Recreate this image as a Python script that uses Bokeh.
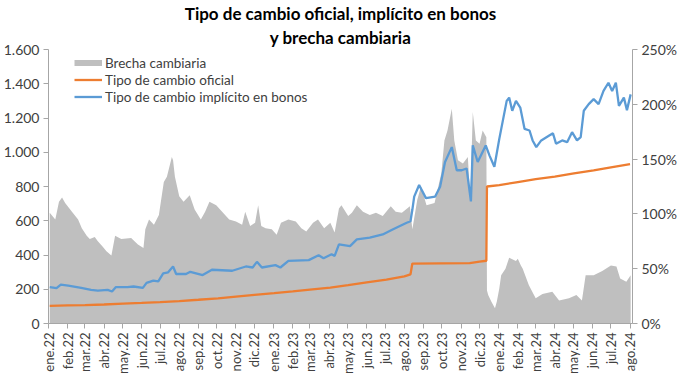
import math
from datetime import datetime
import pandas as pd
from bokeh.plotting import figure
from bokeh.models import (ColumnDataSource, Range1d, LinearAxis, FixedTicker,
                          NumeralTickFormatter, Legend, LegendItem, Title)
from bokeh.embed import file_html
from bokeh.resources import INLINE

# ---------------- data ----------------
oficial_dates = ["2022-01-03", "2022-02-01", "2022-03-01", "2022-04-01", "2022-05-02", "2022-06-01",
                 "2022-07-01", "2022-08-01", "2022-09-01", "2022-10-03", "2022-11-01", "2022-12-01",
                 "2023-01-02", "2023-02-01", "2023-03-01", "2023-04-03", "2023-05-02", "2023-06-01",
                 "2023-07-03", "2023-08-01", "2023-08-11", "2023-08-14", "2023-11-15", "2023-12-01",
                 "2023-12-12", "2023-12-13", "2024-01-02", "2024-02-01", "2024-03-01", "2024-04-01",
                 "2024-05-02", "2024-06-03", "2024-07-01", "2024-08-01"]
oficial_values = [103.0, 105.4, 107.7, 111.0, 115.5, 120.0,
                  125.2, 131.0, 138.7, 147.3, 157.0, 167.0,
                  177.1, 187.0, 197.7, 209.6, 224.0, 240.1,
                  256.7, 275.5, 287.0, 350.0, 353.0, 361.0,
                  366.5, 800.0, 808.5, 826.0, 843.0, 858.0,
                  877.0, 894.0, 912.0, 931.0]

bonos_dates = ["2022-01-03", "2022-01-14", "2022-01-21", "2022-02-02", "2022-02-23", "2022-03-11",
               "2022-03-22", "2022-04-07", "2022-04-14", "2022-04-20", "2022-05-09", "2022-05-19",
               "2022-06-03", "2022-06-09", "2022-06-20", "2022-06-28", "2022-07-06", "2022-07-14",
               "2022-07-22", "2022-07-27", "2022-08-12", "2022-08-19", "2022-09-08", "2022-09-23",
               "2022-10-26", "2022-11-17", "2022-11-28", "2022-12-05", "2022-12-13", "2023-01-04",
               "2023-01-12", "2023-01-25", "2023-02-27", "2023-03-15", "2023-03-23", "2023-04-05",
               "2023-04-10", "2023-04-17", "2023-05-05", "2023-05-16", "2023-06-06", "2023-06-27",
               "2023-07-13", "2023-08-04", "2023-08-11", "2023-08-14", "2023-08-17", "2023-08-25",
               "2023-09-05", "2023-09-20", "2023-09-28", "2023-10-06", "2023-10-17", "2023-10-25",
               "2023-11-02", "2023-11-10", "2023-11-17", "2023-11-20", "2023-11-28", "2023-12-11",
               "2023-12-17", "2023-12-25", "2024-01-02", "2024-01-14", "2024-01-18", "2024-01-23",
               "2024-01-29", "2024-02-05", "2024-02-12", "2024-02-20", "2024-02-25", "2024-03-02",
               "2024-03-10", "2024-03-23", "2024-03-29", "2024-04-03", "2024-04-13", "2024-04-21",
               "2024-04-29", "2024-05-07", "2024-05-13", "2024-05-18", "2024-05-26", "2024-06-03",
               "2024-06-11", "2024-06-19", "2024-06-27", "2024-07-03", "2024-07-09", "2024-07-14",
               "2024-07-22", "2024-07-27", "2024-08-02"]
bonos_values = [212, 206, 227, 221, 208, 196,
                192, 196, 187, 212, 212, 216,
                208, 237, 250, 246, 293, 299,
                333, 289, 289, 302, 283, 314,
                308, 333, 327, 360, 327, 341,
                327, 366, 370, 399, 381, 404,
                395, 462, 452, 491, 501, 520,
                549, 587, 597, 664, 741, 809,
                732, 741, 799, 943, 1030, 895,
                895, 905, 713, 1040, 943, 1040,
                982, 915, 1078, 1300, 1319, 1242,
                1300, 1261, 1136, 1127, 1069, 1030,
                1069, 1098, 1111, 1050, 1069, 1059,
                1117, 1069, 1088, 1242, 1281, 1310,
                1281, 1358, 1406, 1358, 1406, 1271,
                1319, 1246, 1338]

brecha_dates = ["2022-01-03", "2022-01-12", "2022-01-18", "2022-01-23", "2022-01-28", "2022-02-08",
                "2022-02-18", "2022-02-24", "2022-03-04", "2022-03-09", "2022-03-17", "2022-03-22",
                "2022-03-30", "2022-04-05", "2022-04-13", "2022-04-19", "2022-04-29", "2022-05-15",
                "2022-05-26", "2022-06-04", "2022-06-07", "2022-06-13", "2022-06-21", "2022-06-29",
                "2022-07-07", "2022-07-12", "2022-07-20", "2022-07-22", "2022-07-25", "2022-08-01",
                "2022-08-08", "2022-08-18", "2022-08-26", "2022-09-05", "2022-09-12", "2022-09-19",
                "2022-09-30", "2022-10-11", "2022-10-21", "2022-11-01", "2022-11-11", "2022-11-16",
                "2022-11-24", "2022-12-02", "2022-12-07", "2022-12-12", "2022-12-19", "2022-12-29",
                "2023-01-06", "2023-01-13", "2023-01-25", "2023-02-06", "2023-02-15", "2023-02-23",
                "2023-03-06", "2023-03-14", "2023-03-24", "2023-04-03", "2023-04-10", "2023-04-17",
                "2023-04-21", "2023-05-02", "2023-05-08", "2023-05-16", "2023-05-26", "2023-06-06",
                "2023-06-16", "2023-06-27", "2023-07-10", "2023-07-18", "2023-07-28", "2023-08-10",
                "2023-08-14", "2023-08-22", "2023-08-28", "2023-09-06", "2023-09-19", "2023-09-30",
                "2023-10-05", "2023-10-10", "2023-10-17", "2023-10-21", "2023-10-27", "2023-11-04",
                "2023-11-12", "2023-11-16", "2023-11-20", "2023-11-25", "2023-12-01", "2023-12-06",
                "2023-12-12", "2023-12-13", "2023-12-15", "2023-12-20", "2023-12-26", "2023-12-29",
                "2024-01-02", "2024-01-05", "2024-01-12", "2024-01-18", "2024-01-29", "2024-02-01",
                "2024-02-06", "2024-02-09", "2024-02-19", "2024-03-01", "2024-03-12", "2024-03-28",
                "2024-04-08", "2024-04-24", "2024-05-06", "2024-05-15", "2024-05-21", "2024-06-03",
                "2024-06-17", "2024-07-01", "2024-07-10", "2024-07-16", "2024-07-26", "2024-08-02"]
brecha_pct = [101, 95, 111, 115, 110, 102,
              95, 87, 80, 77, 79, 75,
              70, 66, 62, 80, 77, 78,
              72, 69, 86, 95, 90, 99,
              129, 134, 152, 149, 134, 116,
              111, 117, 104, 95, 102, 111,
              108, 101, 95, 93, 90, 102,
              89, 92, 108, 89, 87, 86,
              81, 92, 95, 93, 87, 84,
              92, 95, 87, 92, 83, 105,
              108, 98, 101, 108, 102, 99,
              101, 98, 107, 102, 101, 107,
              86, 113, 125, 108, 110, 137,
              167, 176, 196, 167, 149, 146,
              152, 113, 193, 167, 164, 176,
              170, 30, 26, 20, 14, 20,
              32, 44, 50, 60, 57, 59,
              53, 50, 35, 23, 27, 29,
              21, 23, 26, 21, 44, 44,
              48, 53, 52, 41, 38, 44]

x_tick_labels = ["ene.22", "feb.22", "mar.22", "abr.22", "may.22", "jun.22", "jul.22", "ago.22",
                 "sep.22", "oct.22", "nov.22", "dic.22", "ene.23", "feb.23", "mar.23", "abr.23",
                 "may.23", "jun.23", "jul.23", "ago.23", "sep.23", "oct.23", "nov.23", "dic.23",
                 "ene.24", "feb.24", "mar.24", "abr.24", "may.24", "jun.24", "jul.24", "ago.24"]
left_ticks = [0, 200, 400, 600, 800, 1000, 1200, 1400, 1600]
left_tick_labels = ["0", "200", "400", "600", "800", "1.000", "1.200", "1.400", "1.600"]
right_ticks = [0, 0.5, 1.0, 1.5, 2.0, 2.5]

title_line1 = "Tipo de cambio oficial, implícito en bonos"
title_line2 = "y brecha cambiaria"
legend_labels = ["Brecha cambiaria", "Tipo de cambio oficial", "Tipo de cambio implícito en bonos"]

# ---------------- styling ----------------
FONT = "Lato"
GRAY = "#BFBFBF"
ORANGE = "#ED7D31"
BLUE = "#5B9BD5"
AXIS = "#A6A6A6"
TEXT = "#404040"
FW, FH = 584, 274

of_src = ColumnDataSource(dict(date=pd.to_datetime(oficial_dates), v=oficial_values))
bo_src = ColumnDataSource(dict(date=pd.to_datetime(bonos_dates), v=bonos_values))
br_src = ColumnDataSource(dict(date=pd.to_datetime(brecha_dates), v=[b / 100 for b in brecha_pct]))

tick_dates = pd.date_range("2022-01-01", periods=len(x_tick_labels), freq="MS")
tick_ms = [int(t.value // 10**6) for t in tick_dates]

p = figure(frame_width=FW, frame_height=FH, x_axis_type="datetime",
           x_range=Range1d(datetime(2022, 1, 1), datetime(2024, 8, 5)),
           y_range=Range1d(0, 1600),
           output_backend="svg", toolbar_location=None,
           min_border_left=0, min_border_right=0, min_border_top=0, min_border_bottom=0)
p.extra_y_ranges = {"pct": Range1d(0, 2.5)}

# two centred title lines (second line added first -> sits closest to the plot)
p.title.visible = False
t2 = Title(text=title_line2, align="center", text_font=FONT, text_font_style="bold",
           text_font_size="17px", text_color="black", standoff=3)
t1 = Title(text=title_line1, align="center", text_font=FONT, text_font_style="bold",
           text_font_size="17px", text_color="black", standoff=0)
p.add_layout(t2, "above")
p.add_layout(t1, "above")

p.outline_line_color = None
p.xgrid.visible = False
p.ygrid.visible = False
p.background_fill_color = "white"
p.border_fill_color = "white"

p.varea(x="date", y1=0, y2="v", source=br_src, fill_color=GRAY, y_range_name="pct")
r_of = p.line(x="date", y="v", source=of_src, line_color=ORANGE, line_width=2.3)
r_bo = p.line(x="date", y="v", source=bo_src, line_color=BLUE, line_width=2.3)
# legend key for the area: a thick gray line with no visible data
r_gap_key = p.line(x=[pd.Timestamp(brecha_dates[0])], y=[float("nan")],
                   line_color=GRAY, line_width=6)

# axes
yax = p.yaxis[0]
yax.ticker = FixedTicker(ticks=left_ticks)
yax.major_label_overrides = {t: l for t, l in zip(left_ticks, left_tick_labels)}

rax = LinearAxis(y_range_name="pct", ticker=FixedTicker(ticks=right_ticks),
                 formatter=NumeralTickFormatter(format="0%"))
p.add_layout(rax, "right")

xax = p.xaxis[0]
xax.ticker = FixedTicker(ticks=tick_ms)
xax.major_label_overrides = {t: l for t, l in zip(tick_ms, x_tick_labels)}
xax.major_label_orientation = math.pi / 2

for ax in (yax, rax, xax):
    ax.axis_line_color = AXIS
    ax.major_tick_line_color = AXIS
    ax.minor_tick_line_color = None
    ax.major_tick_in = 0
    ax.major_tick_out = 5
    ax.major_label_standoff = 4
    ax.major_label_text_font = FONT
    ax.major_label_text_color = TEXT
yax.major_label_text_font_size = "14px"
rax.major_label_text_font_size = "14px"
xax.major_label_text_font_size = "13px"

legend = Legend(items=[LegendItem(label=legend_labels[0], renderers=[r_gap_key]),
                       LegendItem(label=legend_labels[1], renderers=[r_of]),
                       LegendItem(label=legend_labels[2], renderers=[r_bo])],
                location=(26, FH - 52 - 4))
legend.background_fill_alpha = 0
legend.border_line_color = None
legend.padding = 0
legend.margin = 0
legend.spacing = 0
legend.glyph_width = 28
legend.glyph_height = 17
legend.label_height = 17
legend.label_standoff = 3
legend.label_text_font = FONT
legend.label_text_font_size = "13.5px"
legend.label_text_color = TEXT
p.add_layout(legend)

open("out.html", "w").write(file_html(p, INLINE))
